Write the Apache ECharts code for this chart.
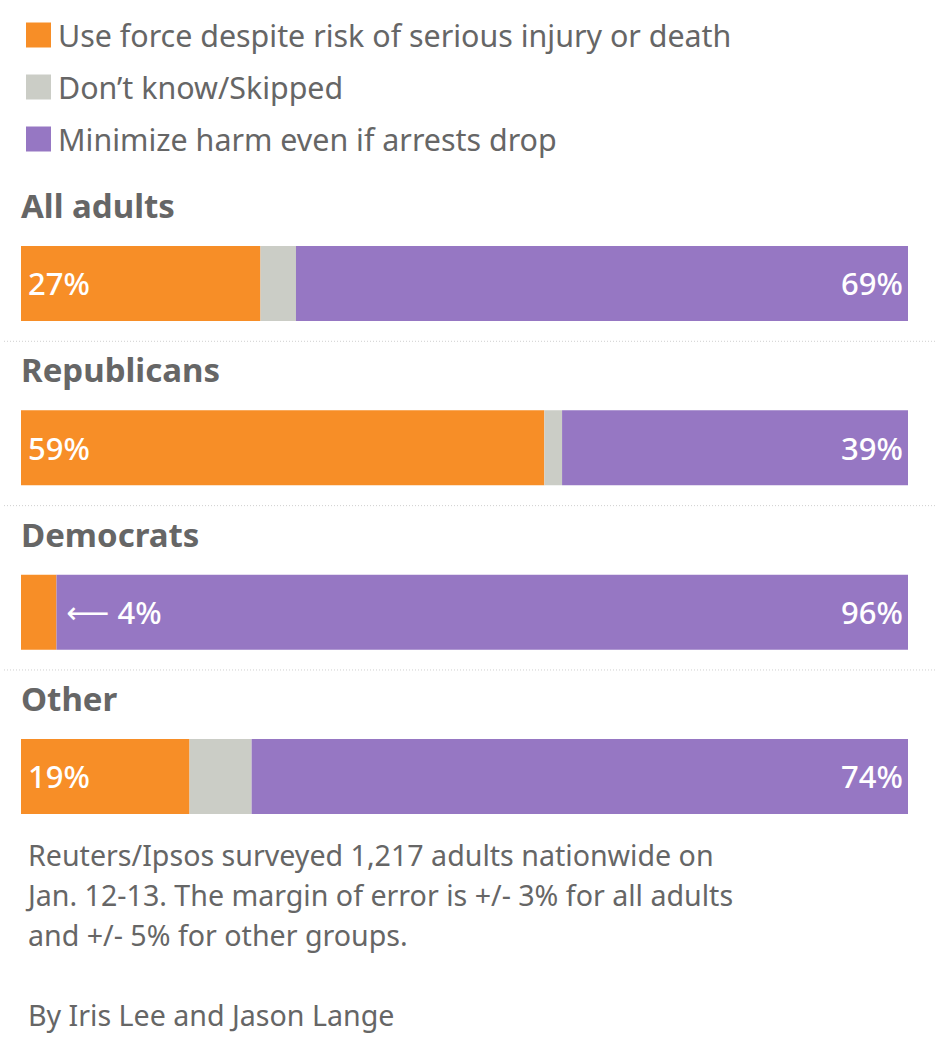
<!DOCTYPE html>
<html><head><meta charset="utf-8">
<script src="https://cdn.jsdelivr.net/npm/echarts@6/dist/echarts.min.js"></script>
<style>html,body{margin:0;padding:0;background:#fff}#c{width:938px;height:1056px}</style>
</head><body><div id="c"></div>
<script>
const categories = ['All adults', 'Republicans', 'Democrats', 'Other'];
const seriesNames = ['Use force despite risk of serious injury or death', 'Don’t know/Skipped', 'Minimize harm even if arrests drop'];
const useForce = [27, 59, 4, 19];
const dontKnow = [4, 2, 0, 7];
const minimizeHarm = [69, 39, 96, 74];
const footerLines = ['Reuters/Ipsos surveyed 1,217 adults nationwide on', 'Jan. 12-13. The margin of error is +/- 3% for all adults', 'and +/- 5% for other groups.', '', 'By Iris Lee and Jason Lange'];

const FONT = 'Noto Sans';
const colors = ['#F78E27', '#CBCDC6', '#9677C3'];
const gridTop = 201.3, band = 164.33, barW = 75;
const chart = echarts.init(document.getElementById('c'), null, {renderer: 'svg'});

const labelFmt = p => p.value < 8 ? '{arr|⟵} ' + p.value + '%' : p.value + '%';
const richArr = {arr: {fontFamily: 'DejaVu Sans', fontSize: 30, color: '#fff', fontWeight: 'normal'}};

const graphics = [];
categories.forEach((c, i) => {
  const barTop = gridTop + band * i + (band - barW) / 2;
  graphics.push({type: 'text', left: 21, top: barTop - 57, style: {text: c, font: 'bold 33px "' + FONT + '"', fill: '#666'}});
  if (i > 0) graphics.push({type: 'line', shape: {x1: 4, y1: barTop - 69, x2: 935, y2: barTop - 69}, style: {stroke: '#cfcfcf', lineWidth: 1, lineDash: [1, 2]}});
});
footerLines.forEach((t, i) => {
  if (!t) return;
  graphics.push({type: 'text', left: 28, top: 840 + i * 40, style: {text: t, font: '28.6px "' + FONT + '"', fill: '#666'}});
});

chart.setOption({
  animation: false,
  legend: {
    orient: 'vertical', left: 21, top: 15, icon: 'rect', itemWidth: 25, itemHeight: 25, itemGap: 22,
    textStyle: {fontFamily: FONT, fontSize: 30.4, color: '#666', padding: [0, 0, 0, 2], lineHeight: 30},
    data: seriesNames
  },
  grid: {left: 21, right: 30, top: gridTop, height: band * 4},
  xAxis: {type: 'value', min: 0, max: 100, show: false},
  yAxis: {type: 'category', data: categories, inverse: true, show: false},
  graphic: graphics,
  series: [
    {name: seriesNames[0], type: 'bar', stack: 's', barWidth: barW, itemStyle: {color: colors[0]},
     data: useForce.map(v => ({value: v, label: v < 8 ? {position: 'right', distance: 10} : {}})),
     label: {show: true, position: 'insideLeft', distance: 7, formatter: labelFmt, color: '#fff', fontFamily: FONT, fontSize: 31, fontWeight: 500, rich: richArr}},
    {name: seriesNames[1], type: 'bar', stack: 's', barWidth: barW, itemStyle: {color: colors[1]}, data: dontKnow},
    {name: seriesNames[2], type: 'bar', stack: 's', barWidth: barW, itemStyle: {color: colors[2]}, data: minimizeHarm,
     label: {show: true, position: 'insideRight', distance: 5, formatter: '{c}%', color: '#fff', fontFamily: FONT, fontSize: 31, fontWeight: 500}}
  ]
});
</script></body></html>
